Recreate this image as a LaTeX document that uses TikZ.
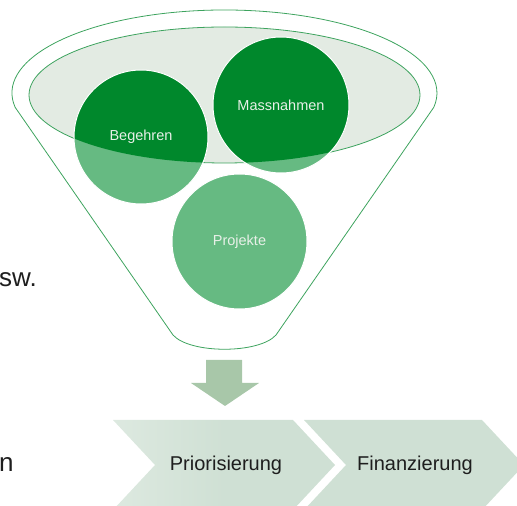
\documentclass[tikz,border=0pt]{standalone}
\usepackage{fontspec}
\setmainfont{Liberation Sans}
\definecolor{funnelline}{HTML}{3DA35E}
\definecolor{bowlfill}{HTML}{E3EBE3}
\definecolor{darkball}{HTML}{00882C}
\definecolor{lightball}{HTML}{66BA82}
\definecolor{balltext}{HTML}{E8F0E8}
\definecolor{arrowfill}{HTML}{A8C7A9}
\definecolor{chevfill}{HTML}{CFE0D4}
\definecolor{chevlight}{HTML}{DDE9E0}
\definecolor{txt}{HTML}{1E1E1E}
\begin{document}
\begin{tikzpicture}[x=1pt,y=1pt,
  ball/.style={circle, draw=white, line width=1pt, inner sep=0pt, text=balltext,
    font=\fontsize{14.5}{16}\selectfont},
  chevtext/.style={text=txt, font=\fontsize{20}{24}\selectfont},
  sidetext/.style={text=txt, font=\fontsize{26}{30}\selectfont, inner sep=0pt}]
\useasboundingbox (0,0) rectangle (517,506);
% funnel outline
\draw[funnelline, line width=0.8pt]
  (15.2,398.6) arc[start angle=190, end angle=-10, x radius=212.5, y radius=83]
  -- (276,171) .. controls (259,152) and (190,152) .. (173,171) -- cycle;
% bowl
\draw[funnelline, line width=0.8pt, fill=bowlfill] (224.5,411) ellipse[x radius=195.5, y radius=68];
% balls light
\fill[lightball] (141,369) circle[radius=67];
\fill[lightball] (281,401) circle[radius=68];
\fill[lightball] (239.5,264.5) circle[radius=67.5];
\begin{scope}
  \clip (224.5,411) ellipse[x radius=195.5, y radius=68];
  \fill[darkball] (141,369) circle[radius=67];
  \fill[darkball] (281,401) circle[radius=68];
\end{scope}
\node[ball, minimum size=134pt] (beg) at (141,369) {Begehren};
\node[ball, minimum size=136pt] (mas) at (281,401) {Massnahmen};
\node[ball, minimum size=135pt] (pro) at (239.5,264.5) {Projekte};
% down arrow
\fill[arrowfill] (206,146) -- (242,146) -- (242,123) -- (259,123) -- (225,100) -- (191,123) -- (206,123) -- cycle;
% chevrons
\shade[left color=chevlight, right color=chevfill, middle color=chevfill]
  (113,86) -- (293,86) -- (335,41) -- (293,-4) -- (113,-4) -- (155,41) -- cycle;
\fill[chevfill] (304,86) -- (482,86) -- (524,41) -- (482,-4) -- (304,-4) -- (346,41) -- cycle;
\node[chevtext] (prio) at (226,41) {Priorisierung};
\node[chevtext] (fin) at (415,41) {Finanzierung};
% side texts
\node[sidetext, anchor=base west] (usw) at (-1,219) {sw.};
\node[sidetext, anchor=base west] (nn) at (-1,34) {n};
\end{tikzpicture}
\end{document}
